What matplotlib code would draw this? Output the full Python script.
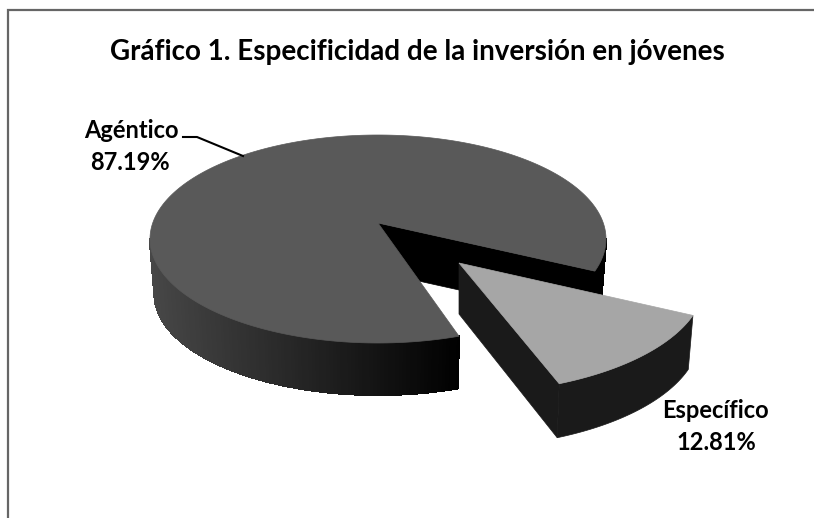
import numpy as np
import matplotlib
matplotlib.use("Agg")
import matplotlib.pyplot as plt
from matplotlib.patches import Polygon

# Data
categories = ["Agéntico", "Específico"]
shares = [87.19, 12.81]
title = "Gráfico 1. Especificidad de la inversión en jóvenes"

# Style / perspective geometry (pixels)
START = 18.0            # start of the small slice, degrees clockwise from right
STRETCH_BIG = 1.11      # perspective widening of the slice gap
STRETCH_SLICE = 1.04
DEPTH = 51
TOP = "#595959"; TOP2 = "#a6a6a6"; WALL2 = "#1a1a1a"
FONT = "Lato"

fig = plt.figure(figsize=(8.14, 5.18), dpi=100)
ax = fig.add_axes([0, 0, 1, 1])
ax.set_xlim(0, 814); ax.set_ylim(518, 0); ax.axis("off")

cx, cy, rx, ry = 378, 239, 228, 104
apex = np.array([378, 223.0])
ax2, ay2 = 459, 263
rx2, ry2 = 246, 113
cy2 = ay2 + 17.5
SHRINK = 0.98           # lower rim is a little smaller in perspective


def rim(c_x, c_y, r_x, r_y, t):
    t = np.radians(t)
    return np.column_stack([c_x + r_x*np.cos(t), c_y + r_y*np.sin(t)])


def shade(x):
    f = np.clip((x - 150) / 310, 0, 1)
    return str(0.28 * (1 - f))


gap = shares[1] / 100 * 360
t0 = START
t1 = START + gap * STRETCH_BIG
t1s = START + gap * STRETCH_SLICE


def wall(c_x, c_y, r_x, r_y, ta, tb, col=None, z=1, n=120):
    ts = np.linspace(ta, tb, n)
    p = rim(c_x, c_y, r_x, r_y, ts)
    b = rim(c_x, c_y + DEPTH + 4, r_x * SHRINK, r_y * 0.97, ts)
    for i in range(n - 1):
        q = np.array([p[i], p[i+1], b[i+1], b[i]])
        c = col if col else shade(q[:, 0].mean())
        ax.add_patch(Polygon(q, closed=True, fc=c, ec=c, lw=1.0, antialiased=False, zorder=z))


# back sliver of the outer wall, to the right of the gap
wall(cx, cy, rx, ry, 0, t0, col="#000000", z=1, n=30)

# inner cut wall (black)
corner = rim(cx, cy, rx, ry, [t0])[0]
ax.add_patch(Polygon([apex, corner, corner + [0, DEPTH - 2], apex + [0, DEPTH - 2]],
                     closed=True, fc="black", ec="black", lw=0.5, zorder=2))

# outer front wall of large slice
wall(cx, cy, rx, ry, t1, 180, z=3)

# top of large slice
ts = np.linspace(t1, t0 + 360, 400)
ax.add_patch(Polygon(np.vstack([apex, rim(cx, cy, rx, ry, ts)]), closed=True,
                     fc=TOP, ec=TOP, lw=0.5, zorder=4))

# exploded slice
ts = np.linspace(t0, t1s, 80)
p = rim(ax2, cy2, rx2, ry2, ts)
b = p + [0, DEPTH + 3]
b[:, 0] = ax2 + (p[:, 0] - ax2) * SHRINK
apx2 = np.array([ax2, ay2], float)
ax.add_patch(Polygon([apx2, p[-1], b[-1], apx2 + [0, DEPTH]], closed=True,
                     fc=WALL2, ec=WALL2, lw=0.5, zorder=5))
ax.add_patch(Polygon(np.vstack([p, b[::-1]]), closed=True,
                     fc=WALL2, ec=WALL2, lw=0.5, zorder=5))
ax.add_patch(Polygon(np.vstack([apx2, p]), closed=True, fc=TOP2, ec=TOP2, lw=0.5, zorder=6))

# frame
ax.plot([8, 8, 814], [518, 10, 10], color="#666666", lw=1.6, zorder=0, solid_joinstyle="miter")

# text
ax.text(417, 52, title, ha="center", va="center", fontsize=20, fontweight="bold",
        family=FONT, color="black", zorder=10)
lab = dict(ha="center", va="center", fontsize=17, fontweight="bold", family=FONT, color="black", zorder=10)
ax.text(131, 131, categories[0], **lab)
ax.text(130, 163, f"{shares[0]:.2f}%", **lab)
ax.text(715, 410, categories[1], **lab)
ax.text(716, 442, f"{shares[1]:.2f}%", **lab)
ax.plot([183, 197, 243], [137, 137, 156], color="black", lw=1.5, zorder=7)

fig.savefig("out.png", dpi=100)
